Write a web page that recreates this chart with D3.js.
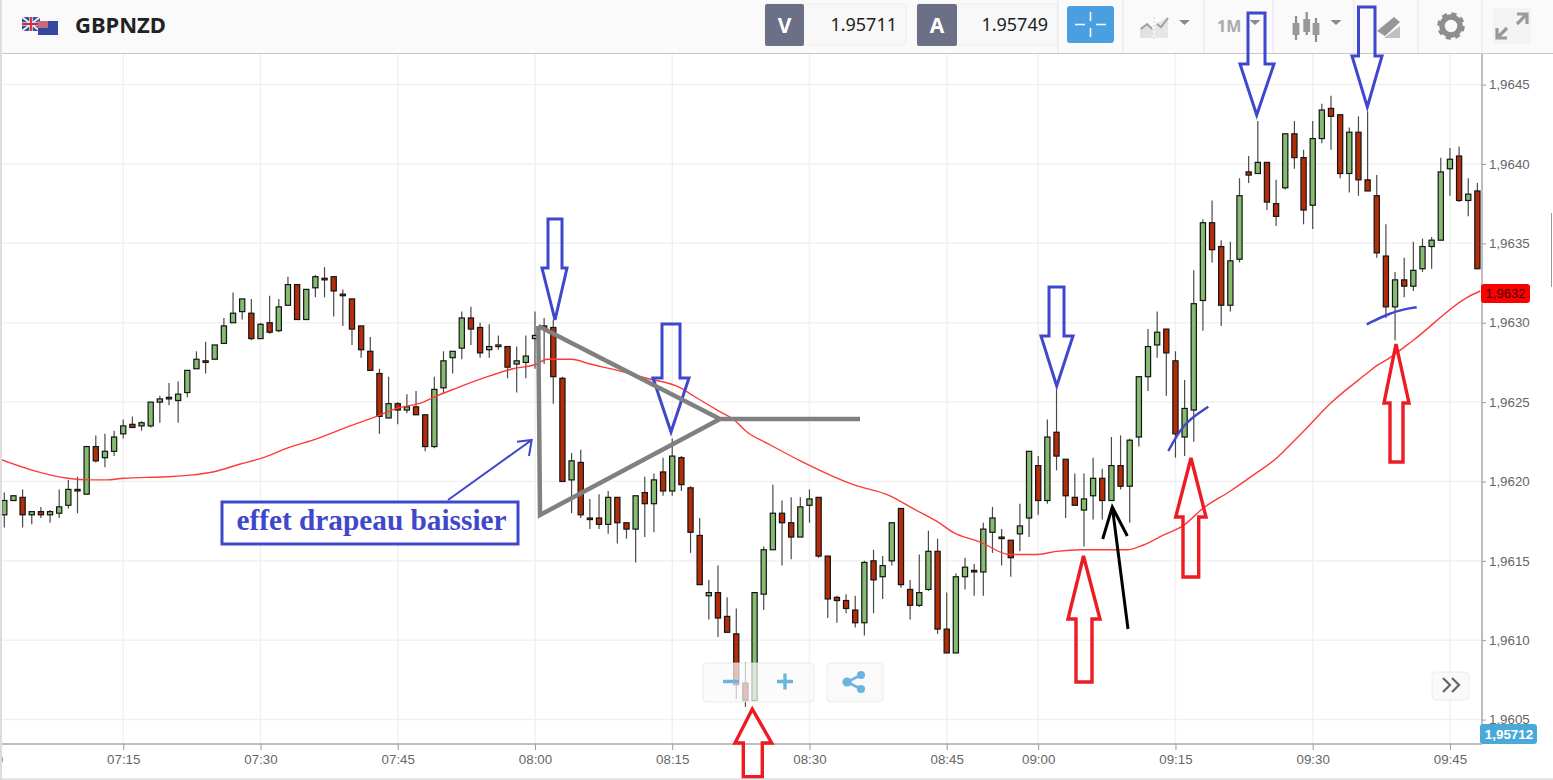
<!DOCTYPE html>
<html><head><meta charset="utf-8">
<script src="https://cdnjs.cloudflare.com/ajax/libs/d3/7.8.5/d3.min.js"></script>
<style>html,body{margin:0;padding:0;background:#fff;overflow:hidden}svg{display:block}</style>
</head><body><svg id="c" width="1553" height="780"></svg>
<script>
const opens=[1.96179,1.96188,1.9619,1.96179,1.96181,1.96179,1.9618,1.96185,1.96195,1.96192,1.96222,1.96215,1.96219,1.9623,1.96236,1.96235,1.96235,1.9625,1.96253,1.96251,1.96256,1.96271,1.96276,1.96277,1.96287,1.963,1.96307,1.96306,1.9629,1.963,1.96295,1.96311,1.96324,1.96302,1.96322,1.96328,1.96329,1.96318,1.96315,1.96298,1.96282,1.96268,1.9624,1.96249,1.96245,1.96247,1.96242,1.96222,1.96259,1.96278,1.96284,1.96303,1.96297,1.96283,1.96285,1.96285,1.96274,1.96275,1.9629,1.96298,1.96297,1.96265,1.96201,1.96212,1.96177,1.96177,1.96173,1.9619,1.96174,1.9617,1.96193,1.96186,1.96206,1.96194,1.96215,1.96196,1.96166,1.96128,1.9613,1.96115,1.96104,1.96073,1.96062,1.96129,1.96157,1.9618,1.96174,1.96165,1.96185,1.9619,1.96153,1.96127,1.96125,1.96119,1.96111,1.9615,1.9614,1.9615,1.96183,1.96132,1.96122,1.96132,1.96156,1.96107,1.96092,1.9614,1.96144,1.96143,1.96168,1.96165,1.96163,1.96167,1.96177,1.9621,1.96188,1.96231,1.96214,1.9619,1.96182,1.96191,1.96202,1.96188,1.9621,1.96197,1.96228,1.96266,1.96286,1.96296,1.96276,1.96228,1.96245,1.96314,1.96363,1.96348,1.96311,1.9634,1.96395,1.96394,1.96401,1.96375,1.96385,1.96419,1.96404,1.96374,1.96416,1.96435,1.96431,1.96394,1.9642,1.9639,1.9638,1.96342,1.9631,1.96327,1.96323,1.96334,1.96348,1.96352,1.96397,1.96405,1.96377,1.96383];
const highs=[1.96193,1.96191,1.96195,1.96181,1.96184,1.96182,1.96195,1.96201,1.96203,1.96222,1.96229,1.9623,1.96232,1.96239,1.96241,1.96238,1.9625,1.96254,1.96262,1.96263,1.9627,1.96282,1.96288,1.96286,1.96303,1.96319,1.96315,1.96315,1.963,1.96317,1.96315,1.96329,1.96324,1.96321,1.9633,1.96335,1.96329,1.96321,1.96315,1.96298,1.96291,1.96271,1.96266,1.9625,1.96255,1.96257,1.96242,1.96266,1.96282,1.96282,1.96307,1.9631,1.963,1.96299,1.96292,1.96285,1.96285,1.96292,1.96307,1.96303,1.96302,1.96266,1.96218,1.9622,1.96189,1.96192,1.96194,1.9619,1.96174,1.96191,1.96203,1.96205,1.96215,1.96227,1.96216,1.96197,1.96177,1.96138,1.96147,1.96127,1.9612,1.96086,1.9613,1.96159,1.96198,1.96188,1.9619,1.9619,1.96195,1.9619,1.96153,1.96128,1.96129,1.96128,1.9615,1.96157,1.96153,1.96174,1.96183,1.96138,1.96154,1.96169,1.96164,1.9613,1.96142,1.96152,1.96148,1.96174,1.96184,1.9617,1.96163,1.96186,1.96219,1.96216,1.96239,1.96258,1.96214,1.96205,1.96205,1.96215,1.96208,1.96228,1.96229,1.96227,1.96266,1.96296,1.96307,1.96296,1.96282,1.96264,1.96333,1.96365,1.96377,1.96352,1.96351,1.96391,1.96405,1.96427,1.96401,1.9639,1.96419,1.96427,1.96409,1.96427,1.96438,1.96443,1.96431,1.96423,1.9643,1.96433,1.96393,1.96362,1.96332,1.96341,1.96351,1.96353,1.96354,1.96404,1.9641,1.96411,1.96391,1.96388];
const lows=[1.96171,1.96188,1.96171,1.96173,1.96177,1.96174,1.96177,1.96183,1.9618,1.96192,1.96212,1.96209,1.96216,1.96227,1.96234,1.96232,1.96234,1.96237,1.96248,1.96237,1.96253,1.96271,1.96268,1.96277,1.96287,1.963,1.96302,1.96289,1.9629,1.96293,1.96294,1.96311,1.96302,1.96302,1.96316,1.96316,1.96304,1.96298,1.96286,1.96278,1.9627,1.9623,1.9624,1.96236,1.96243,1.96242,1.96219,1.96221,1.96255,1.96268,1.96277,1.96286,1.96278,1.96278,1.96283,1.96265,1.96256,1.96265,1.96271,1.96274,1.96249,1.962,1.9618,1.96177,1.9617,1.9617,1.96167,1.96161,1.96164,1.96149,1.96165,1.96168,1.96191,1.96191,1.96194,1.96155,1.96135,1.96113,1.96102,1.96105,1.96063,1.96058,1.96062,1.96119,1.96157,1.96147,1.96151,1.96165,1.96174,1.96152,1.96114,1.96111,1.96117,1.96108,1.96103,1.96117,1.96126,1.96147,1.96133,1.96113,1.96121,1.96131,1.96104,1.96092,1.96092,1.96132,1.96128,1.96128,1.96155,1.96147,1.9614,1.96156,1.96165,1.96179,1.96186,1.96207,1.96177,1.96185,1.96159,1.96176,1.96176,1.96188,1.96195,1.96174,1.96222,1.96257,1.96278,1.96254,1.96215,1.96216,1.96225,1.96295,1.96338,1.96298,1.96307,1.96338,1.96388,1.96394,1.96371,1.96361,1.96384,1.96397,1.96362,1.96359,1.96413,1.96409,1.96391,1.96382,1.9638,1.96383,1.96341,1.96303,1.96289,1.96316,1.9632,1.96332,1.96334,1.96352,1.9638,1.96376,1.96367,1.96334];
const closes=[1.96188,1.96191,1.96179,1.96181,1.96179,1.96181,1.96184,1.96195,1.96194,1.96222,1.96213,1.96219,1.96228,1.96235,1.96234,1.96237,1.9625,1.96252,1.96252,1.96255,1.9627,1.96277,1.96275,1.96286,1.96298,1.96306,1.96315,1.9629,1.96299,1.96294,1.9631,1.96324,1.96302,1.96321,1.96329,1.96327,1.9632,1.96317,1.96296,1.96283,1.9627,1.96241,1.96249,1.96245,1.96247,1.96242,1.96222,1.96258,1.96276,1.96282,1.96303,1.96296,1.96281,1.96285,1.96286,1.96272,1.96276,1.96279,1.96292,1.96296,1.96266,1.962,1.96213,1.96179,1.96176,1.96173,1.9619,1.96174,1.9617,1.96191,1.96186,1.96201,1.96194,1.96216,1.96198,1.96168,1.96135,1.9613,1.96114,1.96105,1.96072,1.96062,1.9613,1.96157,1.9618,1.96174,1.96165,1.96184,1.96189,1.96153,1.96126,1.96125,1.9612,1.96111,1.96149,1.96138,1.96147,1.96174,1.96135,1.96122,1.9613,1.96156,1.96107,1.96092,1.9614,1.96146,1.96143,1.9617,1.96177,1.96164,1.96152,1.96172,1.96219,1.96188,1.96228,1.96216,1.96191,1.96185,1.96189,1.96202,1.96188,1.9621,1.96197,1.96226,1.96266,1.96285,1.96294,1.96281,1.9623,1.96246,1.96312,1.96363,1.96346,1.96311,1.96339,1.9638,1.96393,1.96401,1.96376,1.96367,1.96419,1.96404,1.96371,1.96416,1.96434,1.9643,1.96394,1.9642,1.9639,1.96383,1.96344,1.9631,1.96327,1.96323,1.96333,1.96348,1.96352,1.96395,1.96403,1.96377,1.96381,1.96334];
const maIndex=[-0.5,3.1,6.9,9.4,11.2,13,17.8,20.3,22.8,25.8,28.3,30.9,34.2,37.8,40.7,42.9,45.8,47.3,49.5,52.8,55.6,58.2,59.3,60.4,62,64,67,70.2,73.9,75.3,78.2,79.7,81.2,83.4,87,92.8,96.8,99.3,101.9,103.7,106.6,109.9,112.9,115,117.9,122.7,124.5,126.6,128.8,131,134,136.5,139.1,140,141.9,144.9,148.9,150,150.9,154,159.9,161.3];
const maValues=[1.96214,1.96207,1.96202,1.96201,1.96201,1.96202,1.96203,1.96204,1.96206,1.96211,1.96215,1.96221,1.96227,1.96235,1.96241,1.96246,1.9625,1.96254,1.96259,1.96266,1.96271,1.96274,1.96277,1.96277,1.96277,1.96274,1.9627,1.96265,1.96259,1.96254,1.96244,1.96239,1.96231,1.96224,1.96213,1.96198,1.96191,1.96183,1.96175,1.96168,1.96162,1.96154,1.96154,1.96156,1.96157,1.96157,1.9616,1.96166,1.96172,1.96183,1.96194,1.96204,1.96215,1.9622,1.96231,1.96249,1.96268,1.96273,1.96276,1.96289,1.96316,1.9632];
const priceTicks=[1.9605,1.961,1.9615,1.962,1.9625,1.963,1.9635,1.964,1.9645];
const timeTickIndex=[-2,13,28,43,58,73,88,103,113,128,143,158];
const timeTickLabels=["07:00","07:15","07:30","07:45","08:00","08:15","08:30","08:45","09:00","09:15","09:30","09:45"];
const symbol="GBPNZD", bid="1.95711", ask="1.95749", period="1M", maLast="1,9632", priceLast="1,95712", noteText="effet drapeau baissier";

const svg=d3.select("#c");
const sans='"Liberation Sans",Arial,sans-serif', ui='"Noto Sans","Open Sans",sans-serif';
const plotRight=1482, plotTop=54, plotBottom=744;
const x=d3.scaleLinear().domain([0,161]).range([4.3,1477.4]);
const y=d3.scaleLinear().domain([1.9605,1.9645]).range([719.6,84.6]);

// grid
const grid=svg.append("g").attr("stroke","#f1f1f1").attr("stroke-width",1.5);
grid.selectAll(".h").data(priceTicks).join("line").attr("x1",0).attr("x2",plotRight).attr("y1",d=>y(d)).attr("y2",d=>y(d));
grid.selectAll(".v").data(timeTickIndex).join("line").attr("x1",d=>x(d)).attr("x2",d=>x(d)).attr("y1",plotTop).attr("y2",plotBottom);

// axes
const yAxis=d3.axisRight(y).tickValues(priceTicks).tickSize(4).tickPadding(3).tickFormat(d=>d3.format(".4f")(d).replace(".",","));
const ga=svg.append("g").attr("transform",`translate(${plotRight},0)`).call(yAxis);
const xAxis=d3.axisBottom(x).tickValues(timeTickIndex).tickSize(6).tickPadding(5).tickFormat((d,i)=>timeTickLabels[i]);
const gb=svg.append("g").attr("transform",`translate(0,${plotBottom})`).call(xAxis);
[ga,gb].forEach(g=>{g.select(".domain").remove();g.selectAll("line").attr("stroke","#999");g.selectAll("text").attr("font-family",sans).attr("font-size",13.3).attr("fill","#666");});
svg.append("line").attr("x1",plotRight).attr("x2",plotRight).attr("y1",plotTop).attr("y2",plotBottom).attr("stroke","#aaa").attr("stroke-width",1.5);
svg.append("line").attr("x1",0).attr("x2",plotRight).attr("y1",plotBottom).attr("y2",plotBottom).attr("stroke","#aaa").attr("stroke-width",1.5);

// candles
const idx=d3.range(opens.length);
const up=i=>closes[i]>=opens[i];
const cg=svg.append("g");
cg.selectAll(".w").data(idx).join("line").attr("x1",i=>x(i)).attr("x2",i=>x(i)).attr("y1",i=>y(highs[i])).attr("y2",i=>y(lows[i])).attr("stroke","#4a4a4a").attr("stroke-width",1.2);
cg.selectAll(".b").data(idx).join("rect").attr("x",i=>x(i)-2.6).attr("width",5.2)
  .attr("y",i=>y(Math.max(opens[i],closes[i])))
  .attr("height",i=>Math.max(1.2,Math.abs(y(opens[i])-y(closes[i]))))
  .attr("fill",i=>up(i)?"#86bb72":"#b52c08").attr("stroke","#141414").attr("stroke-width",1.2);

// moving average
svg.append("path").datum(d3.range(maIndex.length)).attr("fill","none").attr("stroke","#ff3a3a").attr("stroke-width",1.4)
  .attr("d",d3.line().x(i=>x(maIndex[i])).y(i=>y(maValues[i])).curve(d3.curveMonotoneX));

// price tags
svg.append("rect").attr("x",1481).attr("y",284).attr("width",49).attr("height",19).attr("rx",3).attr("fill","#fb0000");
svg.append("text").attr("x",1505.5).attr("y",298).attr("text-anchor","middle").attr("font-family",sans).attr("font-size",13).attr("fill","#400").text(maLast);
svg.append("rect").attr("x",1480).attr("y",724).attr("width",57).attr("height",20).attr("rx",3).attr("fill","#4aa9d9");
svg.append("text").attr("x",1509).attr("y",739).attr("text-anchor","middle").attr("font-family",sans).attr("font-size",13.4).attr("font-weight","bold").attr("fill","#fff").text(priceLast);

// header
const h=svg.append("g");
h.append("rect").attr("width",1553).attr("height",53).attr("fill","#fafafa");
h.append("line").attr("x1",0).attr("x2",1553).attr("y1",53.5).attr("y2",53.5).attr("stroke","#c8c8c8").attr("stroke-width",1.2);
[1058,1123,1204,1273,1354,1418,1482].forEach(s=>h.append("line").attr("x1",s).attr("x2",s).attr("y1",0).attr("y2",53).attr("stroke","#e6e6e6"));
// flags
h.append("rect").attr("x",22).attr("y",17).attr("width",18).attr("height",14).attr("fill","#39509b");
h.append("path").attr("d","M22 17L40 31M40 17L22 31").attr("stroke","#eee").attr("stroke-width",2);
h.append("path").attr("d","M31 17V31M22 24H40").attr("stroke","#e0e0e0").attr("stroke-width",3.5);
h.append("path").attr("d","M31 17V31M22 24H40").attr("stroke","#d3283a").attr("stroke-width",1.8);
h.append("rect").attr("x",38).attr("y",21).attr("width",20).attr("height",14).attr("fill","#35479f");
h.append("rect").attr("x",38).attr("y",21).attr("width",10).attr("height",7).attr("fill","#c76a7e");
h.append("text").attr("x",75).attr("y",33).attr("font-family",ui).attr("font-weight",700).attr("font-size",22).attr("fill","#222").text(symbol);
// quote boxes
function quote(x0,x1,x2,letter,val){
  h.append("rect").attr("x",x0).attr("y",4).attr("width",x2-x0).attr("height",41).attr("rx",3).attr("fill","#f8f8f8").attr("stroke","#eee");
  h.append("rect").attr("x",x0).attr("y",4).attr("width",x1-x0).attr("height",42).attr("rx",2).attr("fill","#6b7086");
  h.append("text").attr("x",(x0+x1)/2).attr("y",33).attr("text-anchor","middle").attr("font-family",ui).attr("font-weight",700).attr("font-size",21).attr("fill","#fff").text(letter);
  h.append("text").attr("x",x2-9).attr("y",31).attr("text-anchor","end").attr("font-family",ui).attr("font-size",18).attr("fill","#222").text(val);
}
quote(765,804,906,"V",bid);
quote(917,957,1057,"A",ask);
h.append("rect").attr("x",1067).attr("y",6).attr("width",47).attr("height",37).attr("rx",3).attr("fill","#4a9fe0");
h.append("path").attr("d","M1090.5 12V21M1090.5 28V37M1075 24.5H1085M1096 24.5H1106").attr("stroke","#fff").attr("stroke-width",1.6);
const ic="#a0a0a0";
const tri=(cx,cy)=>h.append("path").attr("d",`M${cx-5.5} ${cy-2.5}H${cx+5.5}L${cx} ${cy+2.5}Z`).attr("fill","#8a8a8a");
h.append("path").attr("d","M1140 38V27L1147 24L1153 28V38Z").attr("fill","#e2e2e2");
h.append("path").attr("d","M1155 38V24L1168 17V38Z").attr("fill","#e6e6e6");
h.append("path").attr("d","M1141 29L1147 24L1152 29M1157 24L1161 27L1168 18").attr("fill","none").attr("stroke",ic).attr("stroke-width",2);
h.append("line").attr("x1",1154).attr("x2",1154).attr("y1",17).attr("y2",39).attr("stroke","#ccc").attr("stroke-dasharray","2 2");
tri(1184.5,22.5);
h.append("text").attr("x",1217).attr("y",32).attr("font-family",ui).attr("font-weight",700).attr("font-size",16).attr("fill","#aaa").text(period);
tri(1255,22.5);
[[1296,16,40,23,35],[1306.7,12,35,19,32],[1316,18,42,23,35]].forEach(([cx,a,b,c,d])=>{
  h.append("line").attr("x1",cx).attr("x2",cx).attr("y1",a).attr("y2",b).attr("stroke","#8e8e8e").attr("stroke-width",2.2);
  h.append("rect").attr("x",cx-3.4).attr("y",c).attr("width",6.8).attr("height",d-c).attr("fill","#999");
});
tri(1336,22.5);
h.append("path").attr("d","M1377 31L1394 17L1400 22L1385 36Z").attr("fill","#969696");
h.append("path").attr("d","M1384 38L1400 26V38Z").attr("fill","#c0c0c0");
h.append("circle").attr("cx",1451).attr("cy",26).attr("r",9).attr("fill","none").attr("stroke","#8e8e8e").attr("stroke-width",5.5);
h.append("circle").attr("cx",1451).attr("cy",26).attr("r",12.3).attr("fill","none").attr("stroke","#8e8e8e").attr("stroke-width",3).attr("stroke-dasharray","5.2 4.46");
h.append("rect").attr("x",1493).attr("y",8).attr("width",38).attr("height",36).attr("fill","#f3f3f3");
h.append("path").attr("d","M1517 14H1527V24M1527 14L1517 24M1507 38H1497V28M1497 38L1507 28").attr("fill","none").attr("stroke","#9a9a9a").attr("stroke-width",3.2);

// on-chart buttons
const bt=svg.append("g");
function btn(bx,by,w,ht,op){bt.append("rect").attr("x",bx).attr("y",by).attr("width",w).attr("height",ht).attr("rx",4).attr("fill","#fafafa").attr("fill-opacity",op).attr("stroke","#e4e4e4").attr("stroke-opacity",.7);}
btn(703,663,111,39,.72);
btn(827,663,56,39,.9);
btn(1432,672,37,28,1);
bt.append("path").attr("d","M723 681.5H739M777 681.5H793M785 673.5V689.5").attr("stroke","#6bb4e2").attr("stroke-width",3.4);
bt.append("path").attr("d","M861 675L847 682L861 689").attr("fill","none").attr("stroke","#6bb4e2").attr("stroke-width",2.6);
[[861,675,4],[847,682,4.6],[861,689,4]].forEach(([a,b,r])=>bt.append("circle").attr("cx",a).attr("cy",b).attr("r",r).attr("fill","#6bb4e2"));
bt.append("path").attr("d","M1443 678L1450 685L1443 692M1452 678L1459 685L1452 692").attr("fill","none").attr("stroke","#666").attr("stroke-width",2.2);

// hand-drawn annotations
const an=svg.append("g").attr("fill","none").attr("stroke-linejoin","miter");
const BLUE="#3f48cc", RED="#ed1c24";
function block(tipX,tipY,wingY,wingL,wingR,shaftL,shaftR,endY,col){
  an.append("path").attr("d",`M${tipX} ${tipY}L${wingR} ${wingY}H${shaftR}V${endY}H${shaftL}V${wingY}H${wingL}Z`).attr("stroke",col).attr("stroke-width",col===RED?3.4:3);
}
block(555,320,268,542,567,548,562,219,BLUE);
block(671,432,378,653,689,662,680,324,BLUE);
block(1056.7,386,336,1041,1073,1049,1064,287,BLUE);
block(1256.7,115,64,1240,1274,1248,1265,13,BLUE);
block(1367.3,107,56,1352,1382,1358.5,1375,7,BLUE);
block(752.3,709,743,735,771.7,743.3,762.3,776.7,RED);
block(1083.5,556,619,1068,1100,1076,1092,682,RED);
block(1191,458,517,1175.7,1206,1183,1198.7,577,RED);
block(1396,344,403,1384,1409,1390,1403,462,RED);
an.append("path").attr("d","M1128 629L1112.3 507M1102.7 539L1112.3 507L1127.3 536").attr("stroke","#000").attr("stroke-width",3);
const curve=d3.line().curve(d3.curveBasis);
an.append("path").attr("d",curve([[1168.3,451],[1180,430],[1190,419],[1208.3,406.7]])).attr("stroke",BLUE).attr("stroke-width",2.5);
an.append("path").attr("d",curve([[1366.7,324.3],[1390,313],[1405,309],[1416.7,307.3]])).attr("stroke",BLUE).attr("stroke-width",2.5);
an.append("path").attr("d","M538.3 326L540 515L720 419L538.3 326M720 419H860").attr("stroke","#808080").attr("stroke-width",4.5);
an.append("path").attr("d","M448 500L531.7 440M517 441.7L531.7 440L529 456").attr("stroke",BLUE).attr("stroke-width",2);
an.append("rect").attr("x",222).attr("y",502).attr("width",296).attr("height",42).attr("fill","#fff").attr("stroke",BLUE).attr("stroke-width",3);
svg.append("text").attr("x",371.5).attr("y",529.5).attr("text-anchor","middle").attr("font-family",'"Liberation Serif",serif').attr("font-weight",700).attr("font-size",29.3).attr("fill",BLUE).text(noteText);

// page edges
svg.append("line").attr("x1",1551.5).attr("x2",1551.5).attr("y1",213).attr("y2",287).attr("stroke","#999");
svg.append("line").attr("x1",0).attr("x2",1553).attr("y1",779).attr("y2",779).attr("stroke","#ccc");
svg.append("rect").attr("x",0).attr("y",0).attr("width",2).attr("height",780).attr("fill","#ddd");
</script></body></html>
